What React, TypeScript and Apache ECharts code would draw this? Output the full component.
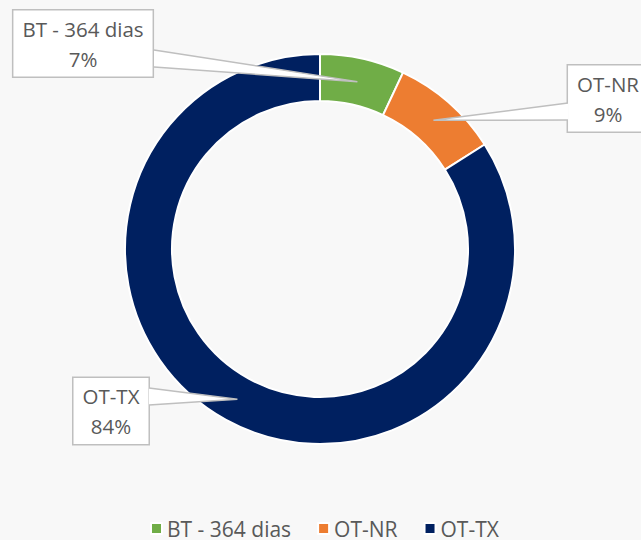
import React, { useEffect, useRef } from "react";
import * as echarts from "echarts";

const categories = ["BT - 364 dias", "OT-NR", "OT-TX"];
const values = [7, 9, 84];
const colors = ["#70ad47", "#ed7d31", "#002060"];

const CENTER = [320, 249];
const RADIUS = [148, 195];
const TIP_R = 171.5;
// callout box centres and pointer bases on the box edge
const callouts = [
  { cx: 83, cy: 43.5, base: [[154, 50], [154, 67]] },
  { cx: 608, cy: 98.5, base: [[568, 103], [568, 120]] },
  { cx: 111, cy: 411, base: [[149, 388], [149, 405]] },
];

function tipPoint(i: number): number[] {
  const total = values.reduce((a, b) => a + b, 0);
  let start = 0;
  for (let k = 0; k < i; k++) start += values[k];
  const a = ((start + values[i] / 2) / total) * Math.PI * 2;
  return [CENTER[0] + TIP_R * Math.sin(a), CENTER[1] - TIP_R * Math.cos(a)];
}

export default function App() {
  const ref = useRef<HTMLDivElement>(null);
  useEffect(() => {
    if (!ref.current) return;
    const chart = echarts.init(ref.current, undefined, { renderer: "svg" });
    const font = "'Open Sans', 'Noto Sans', sans-serif";
    const pointers: any[] = [];
    callouts.forEach((c, i) => {
      const tip = tipPoint(i);
      pointers.push({
        type: "polygon",
        z: 100,
        shape: { points: [c.base[0], tip, c.base[1]] },
        style: { fill: "#ffffff", stroke: null },
      });
      pointers.push({
        type: "polyline",
        z: 101,
        shape: { points: [c.base[0], tip, c.base[1]] },
        style: { stroke: "#bfbfbf", lineWidth: 1.5, fill: null },
      });
    });
    chart.setOption({
      animation: false,
      backgroundColor: "#f8f8f8",
      color: colors,
      legend: {
        data: categories,
        left: 150,
        top: 518,
        padding: 0,
        icon: "rect",
        itemWidth: 11,
        itemHeight: 11,
        itemGap: 26,
        textStyle: { fontSize: 21, color: "#595959", fontFamily: font },
      },
      graphic: pointers,
      series: [
        {
          type: "pie",
          center: CENTER,
          radius: RADIUS,
          startAngle: 90,
          clockwise: true,
          avoidLabelOverlap: false,
          itemStyle: { borderColor: "#ffffff", borderWidth: 2 },
          emphasis: { disabled: true },
          label: {
            show: true,
            position: "outside",
            formatter: "{b}\n{d}%",
            fontSize: 20.5,
            lineHeight: 30,
            color: "#595959",
            fontFamily: font,
            backgroundColor: "#ffffff",
            borderColor: "#bfbfbf",
            borderWidth: 1.5,
            padding: [3, 9],
            align: "center",
          },
          labelLine: { show: false },
          labelLayout: (params: any) => {
            const c = callouts[params.dataIndex];
            return { x: c.cx, y: c.cy, align: "center", verticalAlign: "middle" };
          },
          data: categories.map((name, i) => ({ name, value: values[i] })),
        },
      ],
    });
    return () => chart.dispose();
  }, []);
  return (
    <div
      ref={ref}
      style={{ position: "fixed", left: 0, top: 0, width: 641, height: 540 }}
    />
  );
}
